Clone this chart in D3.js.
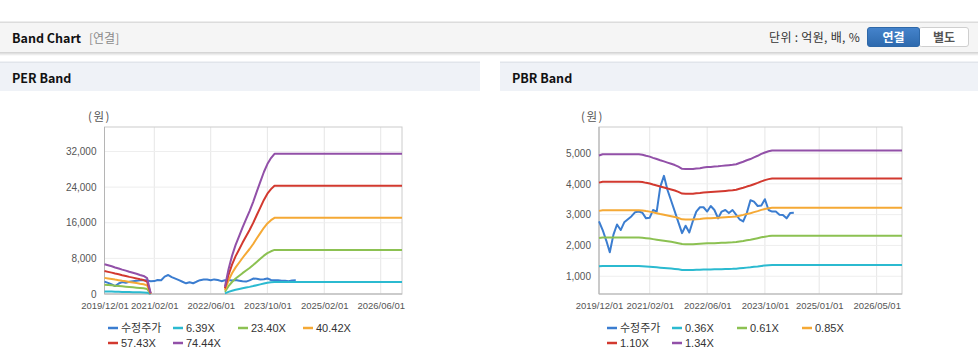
<!DOCTYPE html>
<html><head><meta charset="utf-8">
<script src="https://cdn.jsdelivr.net/npm/d3@7"></script>
<style>
html,body{margin:0;padding:0;background:#fff;}
body{width:978px;height:361px;overflow:hidden;}
svg{display:block;}
</style></head><body>
<svg id="c" width="978" height="361"></svg>
<script>
// ---------- DATA ----------
const seriesNamesPER = ["수정주가","6.39X","23.40X","40.42X","57.43X","74.44X"];
const seriesNamesPBR = ["수정주가","0.36X","0.61X","0.85X","1.10X","1.34X"];

const priceMonths = ["2019/12",
 "2020/01","2020/02","2020/03","2020/04","2020/05","2020/06","2020/07","2020/08","2020/09","2020/10","2020/11","2020/12",
 "2021/01","2021/02","2021/03","2021/04","2021/05","2021/06","2021/07","2021/08","2021/09","2021/10","2021/11","2021/12",
 "2022/01","2022/02","2022/03","2022/04","2022/05","2022/06","2022/07","2022/08","2022/09","2022/10","2022/11","2022/12",
 "2023/01","2023/02","2023/03","2023/04","2023/05","2023/06","2023/07","2023/08","2023/09","2023/10","2023/11","2023/12",
 "2024/01","2024/02","2024/03","2024/04","2024/05","2024/06"];
const priceValues = [2780,2500,2150,1780,2350,2680,2500,2750,2850,2950,3080,3100,3060,2880,2900,3150,3100,3900,4260,3800,3450,3100,2750,2400,2640,2420,2800,3100,3240,3240,3100,3280,3150,2880,3100,3150,3050,3150,2990,2850,2780,3050,3470,3420,3280,3300,3500,3150,3100,3100,3000,2990,2880,3050,3060];

const perBandMonths = ["2019/12","2020/01","2020/02","2020/03","2020/04","2020/05","2020/06","2020/07","2020/08","2020/09","2020/10","2020/11","2020/12","2021/01","2021/02",
 "2022/10","2022/11","2022/12","2023/01","2023/02","2023/03","2023/04","2023/05","2023/06","2023/07","2023/08","2023/09","2023/10","2023/11","2023/12","2026/12"];
const per639  = [573,553,534,511,492,470,450,428,409,390,367,348,307,13,null,141,479,735,946,1118,1278,1444,1598,1776,1968,2160,2352,2505,2620,2703,2703];
const per2340 = [2097,2024,1954,1872,1802,1720,1650,1568,1498,1427,1346,1275,1123,47,null,515,1755,2691,3463,4095,4680,5288,5850,6505,7207,7909,8611,9173,9594,9898,9898];
const per4042 = [3622,3496,3375,3234,3112,2971,2850,2708,2587,2466,2324,2203,1940,81,null,889,3032,4648,5982,7074,8084,9135,10105,11237,12449,13662,14875,15845,16572,17098,17098];
const per5743 = [5146,4968,4795,4594,4422,4221,4049,3848,3676,3503,3302,3130,2757,115,null,1263,4307,6604,8500,10050,11486,12979,14358,15966,17688,19411,21134,22513,23546,24293,24293];
const per7444 = [6670,6439,6216,5955,5732,5471,5248,4987,4764,4541,4280,4057,3573,149,null,1638,5583,8561,11017,13027,14888,16823,18610,20694,22928,25161,27394,29180,30520,31488,31488];

const pbrBandMonths = ["2019/12","2020/01","2020/11","2020/12",
 "2021/01","2021/02","2021/03","2021/04","2021/05","2021/06","2021/07","2021/08","2021/09","2021/10","2021/11","2021/12",
 "2022/01","2022/02","2022/03","2022/04","2022/05","2022/06","2022/07","2022/08","2022/09","2022/10","2022/11","2022/12",
 "2023/01","2023/02","2023/03","2023/04","2023/05","2023/06","2023/07","2023/08","2023/09","2023/10","2023/11","2023/12","2026/12"];
const pbr036 = [1322,1332,1332,1328,1319,1312,1301,1291,1280,1270,1260,1249,1238,1224,1206,1203,1203,1203,1208,1211,1216,1220,1222,1225,1228,1231,1234,1237,1240,1246,1256,1267,1280,1291,1305,1319,1336,1348,1359,1366,1366];
const pbr061 = [2241,2257,2257,2251,2236,2223,2205,2187,2169,2152,2135,2117,2098,2074,2044,2039,2039,2039,2047,2053,2061,2068,2071,2075,2080,2086,2091,2096,2101,2111,2129,2147,2169,2187,2211,2236,2263,2284,2303,2315,2315];
const pbr085 = [3122,3145,3145,3137,3115,3098,3073,3047,3022,2999,2975,2950,2924,2890,2848,2842,2842,2842,2852,2860,2871,2882,2886,2892,2899,2907,2914,2921,2928,2941,2967,2992,3022,3048,3081,3115,3154,3183,3209,3226,3226];
const pbr110 = [4040,4070,4070,4059,4032,4010,3977,3944,3911,3881,3850,3817,3784,3740,3685,3677,3677,3677,3691,3702,3716,3729,3735,3742,3751,3762,3771,3780,3790,3806,3839,3872,3911,3945,3988,4032,4081,4120,4153,4175,4175];
const pbr134 = [4922,4958,4958,4945,4911,4884,4844,4804,4764,4728,4690,4650,4610,4556,4489,4480,4480,4480,4496,4509,4527,4543,4549,4559,4569,4583,4594,4604,4616,4636,4677,4717,4764,4805,4858,4911,4971,5018,5059,5085,5085];

const perXTicks = ["2019/12/01","2021/02/01","2022/06/01","2023/10/01","2025/02/01","2026/06/01"];
const pbrXTicks = ["2019/12/01","2021/02/01","2022/06/01","2023/10/01","2025/01/01","2026/05/01"];
const perYTicks = [0,8000,16000,24000,32000];
const pbrYTicks = [1000,2000,3000,4000,5000];
const xDomain = ["2019/12/01","2026/12/01"];

const colors = ["#3b7dd0","#2bbad0","#8cc152","#f5a935","#d2392f","#9250a8"];

// ---------- DRAW ----------
const svg = d3.select("#c");
const pm = d3.timeParse("%Y/%m");
const pd = d3.timeParse("%Y/%m/%d");
const KFONT = "'Noto Sans CJK KR','Noto Sans',sans-serif";
const CFONT = "'Liberation Sans',Arial,'Noto Sans CJK KR',sans-serif";

// header bar
const defs = svg.append("defs");
const sh = defs.append("linearGradient").attr("id","sh").attr("x1",0).attr("y1",0).attr("x2",0).attr("y2",1);
sh.append("stop").attr("offset",0).attr("stop-color","#cfcfcf");
sh.append("stop").attr("offset",1).attr("stop-color","#ffffff");
const bg = defs.append("linearGradient").attr("id","bb").attr("x1",0).attr("y1",0).attr("x2",0).attr("y2",1);
bg.append("stop").attr("offset",0).attr("stop-color","#4584cc");
bg.append("stop").attr("offset",1).attr("stop-color","#2d69ad");

svg.append("rect").attr("x",0).attr("y",22).attr("width",978).attr("height",30).attr("fill","#f5f5f5");
svg.append("rect").attr("x",0).attr("y",21.5).attr("width",978).attr("height",1.5).attr("fill","#dcdcdc");
svg.append("rect").attr("x",0).attr("y",52).attr("width",978).attr("height",4).attr("fill","url(#sh)");
svg.append("text").attr("x",12).attr("y",42.5).attr("font-family",KFONT).attr("font-weight","bold")
  .attr("font-size",12.5).attr("fill","#111").text("Band Chart");
svg.append("text").attr("x",89).attr("y",42.5).attr("font-family",KFONT)
  .attr("font-size",12).attr("fill","#8a8a8a").text("[연결]");
svg.append("text").attr("x",860).attr("y",42).attr("text-anchor","end").attr("font-family",KFONT)
  .attr("font-size",12).attr("letter-spacing",0.3).attr("fill","#333").text("단위 : 억원, 배, %");
svg.append("rect").attr("x",919).attr("y",27.5).attr("width",49.5).attr("height",19).attr("rx",2.5)
  .attr("fill","#fff").attr("stroke","#cfcfcf");
svg.append("rect").attr("x",867.5).attr("y",27.5).attr("width",52).attr("height",19).attr("rx",2.5)
  .attr("fill","url(#bb)").attr("stroke","#2e68a8");
svg.append("text").attr("x",893.5).attr("y",41.5).attr("text-anchor","middle").attr("font-family",KFONT)
  .attr("font-weight","bold").attr("font-size",12).attr("fill","#fff").text("연결");
svg.append("text").attr("x",944).attr("y",41.5).attr("text-anchor","middle").attr("font-family",KFONT)
  .attr("font-weight","bold").attr("font-size",12).attr("fill","#555").text("별도");

// panel headers
[[0,480,"PER Band"],[500,478,"PBR Band"]].forEach(([x,w,t])=>{
  svg.append("rect").attr("x",x).attr("y",62).attr("width",w).attr("height",29).attr("fill","#eff2f7");
  svg.append("rect").attr("x",x).attr("y",61.5).attr("width",w).attr("height",1.5).attr("fill","#e1e5eb");
  svg.append("text").attr("x",x+12).attr("y",82.5).attr("font-family",KFONT).attr("font-weight","bold")
    .attr("font-size",12.5).attr("fill","#111").text(t);
});

function drawChart(cfg){
  const g = svg.append("g");
  const x = d3.scaleTime().domain(xDomain.map(pd)).range([cfg.left,cfg.right]);
  const y = d3.scaleLinear().domain(cfg.yDomain).range([cfg.bottom,cfg.top]);
  // grid
  g.append("g").selectAll("line").data(cfg.xTicks).join("line")
    .attr("x1",d=>x(pd(d))).attr("x2",d=>x(pd(d))).attr("y1",cfg.top).attr("y2",cfg.bottom)
    .attr("stroke","#e6e6e6").attr("stroke-width",1);
  g.append("g").selectAll("line").data(cfg.yTicks).join("line")
    .attr("x1",cfg.left).attr("x2",cfg.right).attr("y1",d=>y(d)).attr("y2",d=>y(d))
    .attr("stroke","#eeeeee").attr("stroke-width",1);
  // frame
  g.append("rect").attr("x",cfg.left).attr("y",cfg.top).attr("width",cfg.right-cfg.left).attr("height",cfg.bottom-cfg.top)
    .attr("fill","none").attr("stroke","#cccccc");
  g.append("line").attr("x1",cfg.left).attr("x2",cfg.left).attr("y1",cfg.top).attr("y2",cfg.bottom).attr("stroke","#b5b5b5");
  g.append("line").attr("x1",cfg.left).attr("x2",cfg.right).attr("y1",cfg.bottom).attr("y2",cfg.bottom).attr("stroke","#b5b5b5");
  // axes labels via d3 axes
  const ya = d3.axisLeft(y).tickValues(cfg.yTicks).tickFormat(d3.format(",")).tickSize(0).tickPadding(8);
  const yg = g.append("g").attr("transform",`translate(${cfg.left},0)`).call(ya);
  yg.select(".domain").remove();
  yg.selectAll("text").attr("font-family",CFONT).attr("font-size",10).attr("fill","#555");
  const xa = d3.axisBottom(x).tickValues(cfg.xTicks.map(pd)).tickFormat(d3.timeFormat("%Y/%m/%d")).tickSize(0).tickPadding(8);
  const xg = g.append("g").attr("transform",`translate(0,${cfg.bottom})`).call(xa);
  xg.select(".domain").remove();
  xg.selectAll("text").attr("font-family",CFONT).attr("font-size",9.5).attr("fill","#555");
  // unit
  g.append("text").attr("x",cfg.unitX).attr("y",121).attr("font-family",KFONT).attr("font-size",11.5)
    .attr("letter-spacing",1.5).attr("fill","#555").text("(원)");
  // lines
  const line = d3.line().defined(d=>d.v!=null).x(d=>x(d.t)).y(d=>y(d.v));
  cfg.series.forEach((s,i)=>{
    const data = s.months.map((m,j)=>({t:pm(m),v:s.values[j]}));
    g.append("path").datum(data).attr("d",line).attr("fill","none")
      .attr("stroke",colors[i]).attr("stroke-width",2).attr("stroke-linejoin","round");
  });
  // legend
  cfg.names.forEach((n,i)=>{
    const lx = cfg.legendX + (i%4)*65, ly = 328 + Math.floor(i/4)*15;
    g.append("line").attr("x1",lx).attr("x2",lx+10).attr("y1",ly).attr("y2",ly)
      .attr("stroke",colors[i]).attr("stroke-width",2.5);
    g.append("text").attr("x",lx+13).attr("y",ly+4).attr("font-family",CFONT).attr("font-size",11)
      .attr("fill","#333").text(n);
  });
}

drawChart({left:104.5,right:402,top:127,bottom:294,yDomain:[0,37500],yTicks:perYTicks,xTicks:perXTicks,
  unitX:88,legendX:108,names:seriesNamesPER,
  series:[{months:priceMonths,values:priceValues},{months:perBandMonths,values:per639},{months:perBandMonths,values:per2340},
          {months:perBandMonths,values:per4042},{months:perBandMonths,values:per5743},{months:perBandMonths,values:per7444}]});
drawChart({left:599,right:902,top:127,bottom:294,yDomain:[424,5845],yTicks:pbrYTicks,xTicks:pbrXTicks,
  unitX:581,legendX:607,names:seriesNamesPBR,
  series:[{months:priceMonths,values:priceValues},{months:pbrBandMonths,values:pbr036},{months:pbrBandMonths,values:pbr061},
          {months:pbrBandMonths,values:pbr085},{months:pbrBandMonths,values:pbr110},{months:pbrBandMonths,values:pbr134}]});
</script>
</body></html>
